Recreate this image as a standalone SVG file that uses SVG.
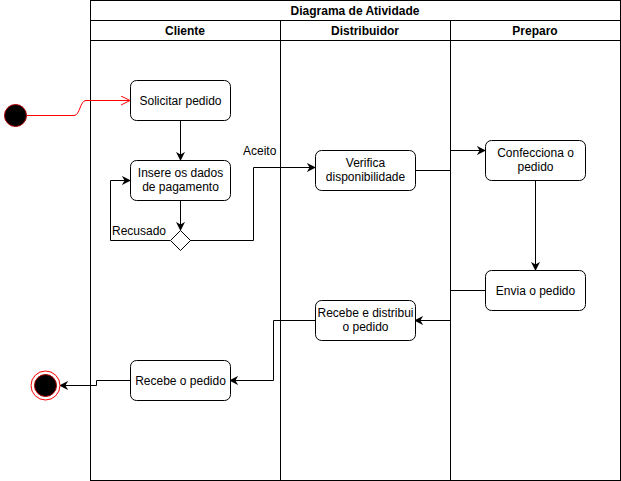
<svg xmlns="http://www.w3.org/2000/svg" width="621" height="481" viewBox="0 0 621 481">
<style>
text{font-family:"Liberation Sans",Arial,sans-serif;font-size:12px;fill:#000;text-anchor:middle}
.h{font-weight:bold}
.box{fill:#fff;stroke:#000;stroke-width:1}
.lane{fill:none;stroke:#000;stroke-width:1}
.e{fill:none;stroke:#000;stroke-width:1}
.l{text-anchor:start}
</style>
<defs>
<marker id="a" viewBox="0 0 10 10" refX="9" refY="5" markerWidth="9" markerHeight="9" markerUnits="userSpaceOnUse" orient="auto">
<path d="M0,0 L10,5 L0,10 L3,5 Z" fill="#000"/>
</marker>
<marker id="r" viewBox="0 0 10 10" refX="9" refY="5" markerWidth="10" markerHeight="10" markerUnits="userSpaceOnUse" orient="auto">
<path d="M0,0.5 L9,5 L0,9.5" fill="none" stroke="#ff0000" stroke-width="1"/>
</marker>
</defs>
<rect width="621" height="481" fill="#fff"/>
<g id="pool">
<rect class="lane" x="90.5" y="0.5" width="530" height="480"/>
<line class="lane" x1="90" y1="20.5" x2="620" y2="20.5"/>
<line class="lane" x1="90" y1="40.5" x2="620" y2="40.5"/>
<line class="lane" x1="280.5" y1="20" x2="280.5" y2="480"/>
<line class="lane" x1="450.5" y1="20" x2="450.5" y2="480"/>
<text class="h" x="355" y="15">Diagrama de Atividade</text>
<text class="h" x="185" y="35">Cliente</text>
<text class="h" x="365" y="35">Distribuidor</text>
<text class="h" x="535" y="35">Preparo</text>
</g>
<g id="edges">
<path d="M27,115.5 H74 C80,115.5 80,100.5 86,100.5 H130" fill="none" stroke="#ff0000" marker-end="url(#r)"/>
<path class="e" d="M180.5,120 V160" marker-end="url(#a)"/>
<path class="e" d="M180.5,200 V230" marker-end="url(#a)"/>
<path class="e" d="M170,240.5 H110.5 V180.5 H130" marker-end="url(#a)"/>
<path class="e" d="M190,240.5 H253.5 V167.5 H315" marker-end="url(#a)"/>
<path class="e" d="M415,170.5 H450.5 V150.5 H485" marker-end="url(#a)"/>
<path class="e" d="M535.5,180 V270" marker-end="url(#a)"/>
<path class="e" d="M485,290.5 H450.5 V320.5 H415" marker-end="url(#a)"/>
<path class="e" d="M315,320.5 H273.5 V380.5 H230" marker-end="url(#a)"/>
<path class="e" d="M130,380.5 H96.5 V385.5 H60" marker-end="url(#a)"/>
<text class="l" x="243" y="155">Aceito</text>
<text class="l" x="112" y="235">Recusado</text>
</g>
<g id="start"><circle cx="15.5" cy="115.5" r="11" fill="#000" stroke="#b20000" stroke-width="1"/></g>
<g id="solicitar"><rect class="box" x="130.5" y="80.5" width="100" height="40" rx="6"/><text x="180.5" y="105">Solicitar pedido</text></g>
<g id="insere"><rect class="box" x="130.5" y="160.5" width="100" height="40" rx="6"/><text x="180.5" y="177">Insere os dados</text><text x="180.5" y="191">de pagamento</text></g>
<g id="decisao"><path d="M180.5,230.5 L190.5,240.5 L180.5,250.5 L170.5,240.5 Z" fill="#fff" stroke="#000"/></g>
<g id="verifica"><rect class="box" x="315.5" y="150.5" width="100" height="40" rx="6"/><text x="365.5" y="167">Verifica</text><text x="365.5" y="181">disponibilidade</text></g>
<g id="confecciona"><rect class="box" x="485.5" y="140.5" width="100" height="40" rx="6"/><text x="535.5" y="157">Confecciona o</text><text x="535.5" y="171">pedido</text></g>
<g id="envia"><rect class="box" x="485.5" y="270.5" width="100" height="40" rx="6"/><text x="535.5" y="295">Envia o pedido</text></g>
<g id="distribui"><rect class="box" x="315.5" y="300.5" width="100" height="40" rx="6"/><text x="365.5" y="317">Recebe e distribui</text><text x="365.5" y="331">o pedido</text></g>
<g id="recebe"><rect class="box" x="130.5" y="360.5" width="100" height="40" rx="6"/><text x="180.5" y="385">Recebe o pedido</text></g>
<g id="end"><circle cx="45.5" cy="385.5" r="14.5" fill="#fff" stroke="#ff0000"/><circle cx="45.5" cy="385.5" r="11" fill="#000" stroke="#b20000"/></g>
</svg>
